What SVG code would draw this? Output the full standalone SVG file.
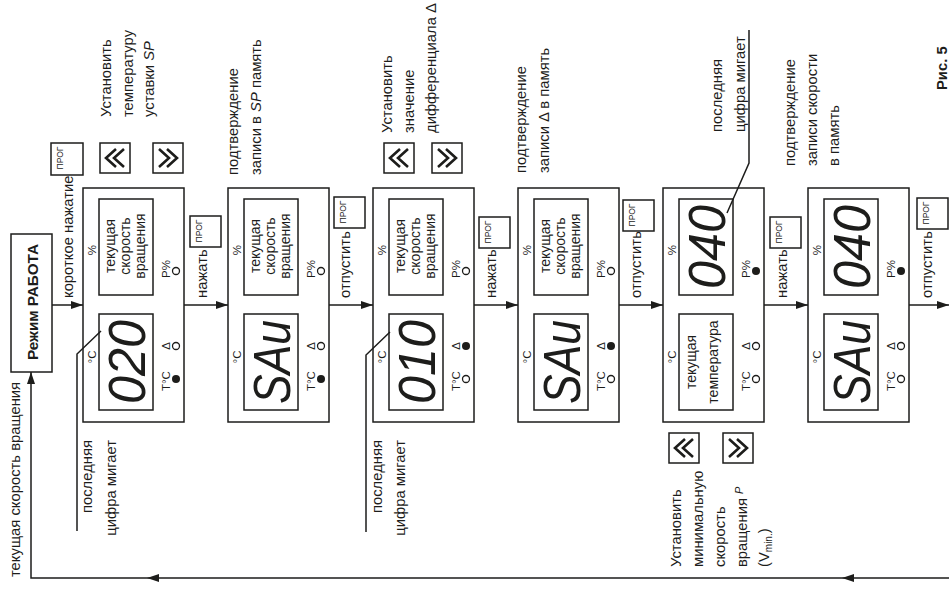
<svg xmlns="http://www.w3.org/2000/svg" width="949" height="589" viewBox="0 0 949 589">
<defs>
<style>
.ln{stroke:#1d1d1b;stroke-width:1.5;fill:none}
.bx{fill:none;stroke:#1d1d1b;stroke-width:1.5}
.ch{fill:none;stroke:#1d1d1b;stroke-width:2.6}
text{font-family:"Liberation Sans",Arial,sans-serif;font-size:14.8px;fill:#1d1d1b}
.s{font-size:11.5px}
.in{font-size:14px}
.m{text-anchor:middle}
.e{text-anchor:end}
.pr{font-size:8.5px}
.dg{font-size:52px;font-style:italic}
.b{font-weight:bold}
.i{font-style:italic}
.on{fill:#1d1d1b}
.off{fill:none;stroke:#1d1d1b;stroke-width:1.3}
</style>
<marker id="ah" markerWidth="12" markerHeight="8" refX="12" refY="4" orient="auto" markerUnits="userSpaceOnUse"><path d="M0,0 L12,4 L0,8 z" fill="#1d1d1b"/></marker>
</defs>
<rect width="949" height="589" fill="#fff"/>

<g id="connectors">
<line class="ln" x1="52" y1="305" x2="83" y2="305" marker-end="url(#ah)"/>
<line class="ln" x1="184" y1="305" x2="228" y2="305" marker-end="url(#ah)"/>
<line class="ln" x1="329" y1="305" x2="373" y2="305" marker-end="url(#ah)"/>
<line class="ln" x1="474" y1="305" x2="518" y2="305" marker-end="url(#ah)"/>
<line class="ln" x1="619" y1="305" x2="663" y2="305" marker-end="url(#ah)"/>
<line class="ln" x1="764" y1="305" x2="808" y2="305" marker-end="url(#ah)"/>
<line class="ln" x1="909" y1="305" x2="949" y2="305" marker-end="url(#ah)"/>
<polyline class="ln" points="949,578 31,578 31,372" marker-end="url(#ah)"/>
<path d="M147,578 L159,574 L159,582 z" fill="#1d1d1b"/>
<path d="M842,578 L854,574 L854,582 z" fill="#1d1d1b"/>
<polyline class="ln" points="77,531 77,354 101,331"/>
<polyline class="ln" points="366,532 366,355 390,332"/>
<polyline class="ln" points="749,30 749,163 727,213"/>
</g>

<g id="mode">
<rect class="bx" x="11" y="234" width="41" height="138"/>
<text class="b m" x="38" y="302" font-size="17" textLength="116" lengthAdjust="spacingAndGlyphs" transform="rotate(-90 38 302)">Режим РАБОТА</text>
</g>
<text x="20" y="577" transform="rotate(-90 20 577)">текущая скорость вращения</text>

<g id="prog-buttons">
<rect class="bx" x="51" y="143" width="32" height="32"/><text class="pr m" x="63" y="158" transform="rotate(-90 63 158)">ПРОГ</text>
<rect class="bx" x="190" y="216" width="31" height="31"/><text class="pr m" x="202" y="231" transform="rotate(-90 202 231)">ПРОГ</text>
<rect class="bx" x="334" y="197" width="31" height="31"/><text class="pr m" x="346" y="212" transform="rotate(-90 346 212)">ПРОГ</text>
<rect class="bx" x="479" y="217" width="31" height="31"/><text class="pr m" x="491" y="232" transform="rotate(-90 491 232)">ПРОГ</text>
<rect class="bx" x="623" y="200" width="31" height="31"/><text class="pr m" x="635" y="215" transform="rotate(-90 635 215)">ПРОГ</text>
<rect class="bx" x="770" y="217" width="31" height="31"/><text class="pr m" x="782" y="232" transform="rotate(-90 782 232)">ПРОГ</text>
<rect class="bx" x="917" y="198" width="31" height="31"/><text class="pr m" x="929" y="213" transform="rotate(-90 929 213)">ПРОГ</text>
</g>
<g id="step-labels">
<text x="73" y="298" transform="rotate(-90 73 298)">короткое нажатие</text>
<text x="207" y="298" transform="rotate(-90 207 298)">нажать</text>
<text x="350" y="298" transform="rotate(-90 350 298)">отпустить</text>
<text x="496" y="298" transform="rotate(-90 496 298)">нажать</text>
<text x="641" y="298" transform="rotate(-90 641 298)">отпустить</text>
<text x="787" y="298" transform="rotate(-90 787 298)">нажать</text>
<text x="932" y="298" transform="rotate(-90 932 298)">отпустить</text>
</g>

<g id="arrow-buttons">
<rect class="bx" x="100" y="143" width="30" height="30"/><polyline class="ch" points="116,149 106,158 116,167"/><polyline class="ch" points="124,149 114,158 124,167"/>
<rect class="bx" x="153" y="143" width="30" height="30"/><polyline class="ch" points="159,149 169,158 159,167"/><polyline class="ch" points="167,149 177,158 167,167"/>
<rect class="bx" x="384" y="143" width="30" height="30"/><polyline class="ch" points="400,149 390,158 400,167"/><polyline class="ch" points="408,149 398,158 408,167"/>
<rect class="bx" x="432" y="143" width="30" height="30"/><polyline class="ch" points="438,149 448,158 438,167"/><polyline class="ch" points="446,149 456,158 446,167"/>
<rect class="bx" x="669" y="433" width="30" height="30"/><polyline class="ch" points="685,439 675,448 685,457"/><polyline class="ch" points="693,439 683,448 693,457"/>
<rect class="bx" x="723" y="433" width="30" height="30"/><polyline class="ch" points="729,439 739,448 729,457"/><polyline class="ch" points="737,439 747,448 737,457"/>
</g>

<g id="notes">
<text x="111" y="117" transform="rotate(-90 111 117)">Установить</text>
<text x="132.5" y="117" transform="rotate(-90 132.5 117)">температуру</text>
<text x="154" y="117" transform="rotate(-90 154 117)">уставки <tspan class="i">SP</tspan></text>
<text x="238" y="175" transform="rotate(-90 238 175)">подтверждение</text>
<text x="261" y="175" transform="rotate(-90 261 175)">записи в <tspan class="i">SP</tspan> память</text>
<text x="392" y="133" transform="rotate(-90 392 133)">Установить</text>
<text x="414" y="133" transform="rotate(-90 414 133)">значение</text>
<text x="436" y="133" transform="rotate(-90 436 133)">дифференциала Δ</text>
<text x="526" y="173" transform="rotate(-90 526 173)">подтверждение</text>
<text x="549" y="173" transform="rotate(-90 549 173)">записи Δ в память</text>
<text x="681" y="567" transform="rotate(-90 681 567)">Установить</text>
<text x="703" y="567" transform="rotate(-90 703 567)">минимальную</text>
<text x="725" y="567" transform="rotate(-90 725 567)">скорость</text>
<text x="747" y="567" transform="rotate(-90 747 567)">вращения <tspan class="i" font-size="11" dy="-4">P</tspan></text>
<text x="769" y="567" transform="rotate(-90 769 567)">(V<tspan font-size="10" dy="3">min.</tspan><tspan dy="-3">)</tspan></text>
<text x="722" y="132" transform="rotate(-90 722 132)">последняя</text>
<text x="745" y="132" transform="rotate(-90 745 132)">цифра мигает</text>
<text x="795" y="166" transform="rotate(-90 795 166)">подтверждение</text>
<text x="817" y="166" transform="rotate(-90 817 166)">записи скорости</text>
<text x="839" y="166" transform="rotate(-90 839 166)">в память</text>
<text class="e" x="92" y="440" transform="rotate(-90 92 440)">последняя</text>
<text class="e" x="116" y="440" transform="rotate(-90 116 440)">цифра мигает</text>
<text class="e" x="382" y="440" transform="rotate(-90 382 440)">последняя</text>
<text class="e" x="405" y="440" transform="rotate(-90 405 440)">цифра мигает</text>
<text class="b" x="947" y="90" font-size="21" transform="rotate(-90 947 90)">Рис. 5</text>
</g>

<g id="display1" transform="translate(83,0)">
<rect class="bx" x="0" y="188" width="101" height="234"/>
<rect class="bx" x="16" y="199" width="54" height="96"/>
<rect class="bx" x="16" y="314" width="54" height="96"/>
<text class="s m" x="13" y="250" transform="rotate(-90 13 250)">%</text>
<text class="s m" x="13" y="357" transform="rotate(-90 13 357)">°C</text>
<text class="s" x="87" y="278" transform="rotate(-90 87 278)">P%</text>
<text class="s" x="87" y="391" transform="rotate(-90 87 391)">T°C</text>
<text class="s m" x="87" y="346" transform="rotate(-90 87 346)">Δ</text>
<circle class="off" cx="93" cy="271" r="3.5"/><circle class="on" cx="93" cy="379" r="4"/><circle class="off" cx="93" cy="346" r="3.5"/>
<text class="in m" x="32" y="246" transform="rotate(-90 32 246)">текущая</text>
<text class="in m" x="47" y="246" transform="rotate(-90 47 246)">скорость</text>
<text class="in m" x="62" y="246" transform="rotate(-90 62 246)">вращения</text>
<text class="dg m" x="62" y="362" textLength="84" lengthAdjust="spacingAndGlyphs" transform="rotate(-90 62 362)">020</text>
</g>

<g id="display2" transform="translate(228,0)">
<rect class="bx" x="0" y="188" width="101" height="234"/>
<rect class="bx" x="16" y="199" width="54" height="96"/>
<rect class="bx" x="16" y="314" width="54" height="96"/>
<text class="s m" x="13" y="250" transform="rotate(-90 13 250)">%</text>
<text class="s m" x="13" y="357" transform="rotate(-90 13 357)">°C</text>
<text class="s" x="87" y="278" transform="rotate(-90 87 278)">P%</text>
<text class="s" x="87" y="391" transform="rotate(-90 87 391)">T°C</text>
<text class="s m" x="87" y="346" transform="rotate(-90 87 346)">Δ</text>
<circle class="off" cx="93" cy="271" r="3.5"/><circle class="on" cx="93" cy="379" r="4"/><circle class="off" cx="93" cy="346" r="3.5"/>
<text class="in m" x="32" y="246" transform="rotate(-90 32 246)">текущая</text>
<text class="in m" x="47" y="246" transform="rotate(-90 47 246)">скорость</text>
<text class="in m" x="62" y="246" transform="rotate(-90 62 246)">вращения</text>
<text class="dg m" x="62" y="362" textLength="84" lengthAdjust="spacingAndGlyphs" transform="rotate(-90 62 362)">SAu</text>
</g>

<g id="display3" transform="translate(373,0)">
<rect class="bx" x="0" y="188" width="101" height="234"/>
<rect class="bx" x="16" y="199" width="54" height="96"/>
<rect class="bx" x="16" y="314" width="54" height="96"/>
<text class="s m" x="13" y="250" transform="rotate(-90 13 250)">%</text>
<text class="s m" x="13" y="357" transform="rotate(-90 13 357)">°C</text>
<text class="s" x="87" y="278" transform="rotate(-90 87 278)">P%</text>
<text class="s" x="87" y="391" transform="rotate(-90 87 391)">T°C</text>
<text class="s m" x="87" y="346" transform="rotate(-90 87 346)">Δ</text>
<circle class="off" cx="93" cy="271" r="3.5"/><circle class="off" cx="93" cy="379" r="3.5"/><circle class="on" cx="93" cy="346" r="4"/>
<text class="in m" x="32" y="246" transform="rotate(-90 32 246)">текущая</text>
<text class="in m" x="47" y="246" transform="rotate(-90 47 246)">скорость</text>
<text class="in m" x="62" y="246" transform="rotate(-90 62 246)">вращения</text>
<text class="dg m" x="62" y="362" textLength="84" lengthAdjust="spacingAndGlyphs" transform="rotate(-90 62 362)">010</text>
</g>

<g id="display4" transform="translate(518,0)">
<rect class="bx" x="0" y="188" width="101" height="234"/>
<rect class="bx" x="16" y="199" width="54" height="96"/>
<rect class="bx" x="16" y="314" width="54" height="96"/>
<text class="s m" x="13" y="250" transform="rotate(-90 13 250)">%</text>
<text class="s m" x="13" y="357" transform="rotate(-90 13 357)">°C</text>
<text class="s" x="87" y="278" transform="rotate(-90 87 278)">P%</text>
<text class="s" x="87" y="391" transform="rotate(-90 87 391)">T°C</text>
<text class="s m" x="87" y="346" transform="rotate(-90 87 346)">Δ</text>
<circle class="off" cx="93" cy="271" r="3.5"/><circle class="off" cx="93" cy="379" r="3.5"/><circle class="on" cx="93" cy="346" r="4"/>
<text class="in m" x="32" y="246" transform="rotate(-90 32 246)">текущая</text>
<text class="in m" x="47" y="246" transform="rotate(-90 47 246)">скорость</text>
<text class="in m" x="62" y="246" transform="rotate(-90 62 246)">вращения</text>
<text class="dg m" x="62" y="362" textLength="84" lengthAdjust="spacingAndGlyphs" transform="rotate(-90 62 362)">SAu</text>
</g>

<g id="display5" transform="translate(663,0)">
<rect class="bx" x="0" y="188" width="101" height="234"/>
<rect class="bx" x="16" y="199" width="54" height="96"/>
<rect class="bx" x="16" y="314" width="54" height="96"/>
<text class="s m" x="13" y="250" transform="rotate(-90 13 250)">%</text>
<text class="s m" x="13" y="357" transform="rotate(-90 13 357)">°C</text>
<text class="s" x="87" y="278" transform="rotate(-90 87 278)">P%</text>
<text class="s" x="87" y="391" transform="rotate(-90 87 391)">T°C</text>
<text class="s m" x="87" y="346" transform="rotate(-90 87 346)">Δ</text>
<circle class="on" cx="93" cy="271" r="4"/><circle class="off" cx="93" cy="379" r="3.5"/><circle class="off" cx="93" cy="346" r="3.5"/>
<text class="dg m" x="62" y="247" textLength="84" lengthAdjust="spacingAndGlyphs" transform="rotate(-90 62 247)">040</text>
<text class="in m" x="33" y="362" transform="rotate(-90 33 362)">текущая</text>
<text class="in m" x="55" y="362" transform="rotate(-90 55 362)">температура</text>
</g>

<g id="display6" transform="translate(808,0)">
<rect class="bx" x="0" y="188" width="101" height="234"/>
<rect class="bx" x="16" y="199" width="54" height="96"/>
<rect class="bx" x="16" y="314" width="54" height="96"/>
<text class="s m" x="13" y="250" transform="rotate(-90 13 250)">%</text>
<text class="s m" x="13" y="357" transform="rotate(-90 13 357)">°C</text>
<text class="s" x="87" y="278" transform="rotate(-90 87 278)">P%</text>
<text class="s" x="87" y="391" transform="rotate(-90 87 391)">T°C</text>
<text class="s m" x="87" y="346" transform="rotate(-90 87 346)">Δ</text>
<circle class="on" cx="93" cy="271" r="4"/><circle class="off" cx="93" cy="379" r="3.5"/><circle class="off" cx="93" cy="346" r="3.5"/>
<text class="dg m" x="62" y="247" textLength="84" lengthAdjust="spacingAndGlyphs" transform="rotate(-90 62 247)">040</text>
<text class="dg m" x="62" y="362" textLength="84" lengthAdjust="spacingAndGlyphs" transform="rotate(-90 62 362)">SAu</text>
</g>
</svg>
